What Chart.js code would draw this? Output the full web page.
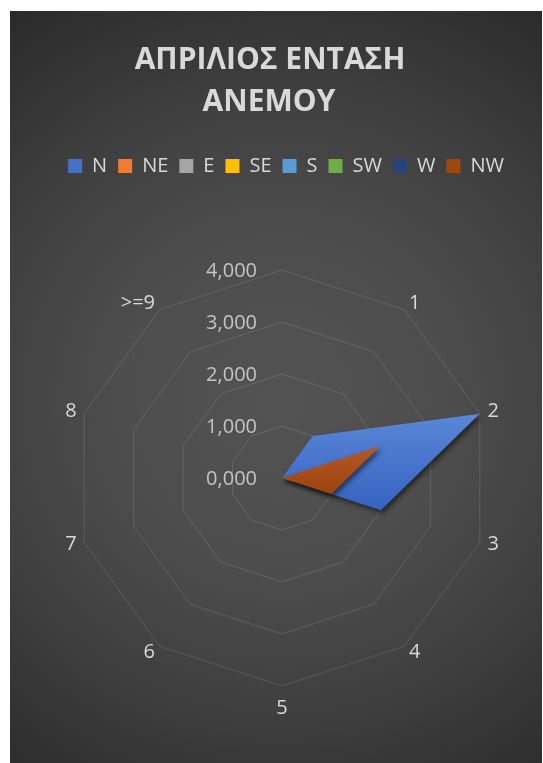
<!DOCTYPE html>
<html>
<head>
<meta charset="utf-8">
<script src="https://cdn.jsdelivr.net/npm/chart.js@4.4.1/dist/chart.umd.min.js"></script>
<style>
  html, body { margin: 0; padding: 0; background: #ffffff; }
  #box {
    position: absolute; left: 10px; top: 11px; width: 532px; height: 752px;
    background: radial-gradient(circle farthest-corner at 51% 52%, #535353 0%, #4d4d4d 35%, #3f3f3f 65%, #2a2a2a 100%);
  }
  canvas { display: block; }
</style>
</head>
<body>
<div id="box"><canvas id="myChart" width="532" height="752"></canvas></div>
<script>
// Δεδομένα
const categories = ['', '1', '2', '3', '4', '5', '6', '7', '8', '>=9'];
const seriesNames = ['N', 'NE', 'E', 'SE', 'S', 'SW', 'W', 'NW'];
const N  = [0, 1, 4, 2, 0, 0, 0, 0, 0, 0];
const NE = [0, 0, 0, 0, 0, 0, 0, 0, 0, 0];
const E  = [0, 0, 0, 0, 0, 0, 0, 0, 0, 0];
const SE = [0, 0, 0, 0, 0, 0, 0, 0, 0, 0];
const S  = [0, 0, 0, 0, 0, 0, 0, 0, 0, 0];
const SW = [0, 0, 0, 0, 0, 0, 0, 0, 0, 0];
const W  = [0, 0, 0, 0, 0, 0, 0, 0, 0, 0];
const NW = [0, 0, 2, 1, 0, 0, 0, 0, 0, 0];
const tickValues = [0, 1, 2, 3, 4];
const tickLabels = ['0,000', '1,000', '2,000', '3,000', '4,000'];
const titleLines = ['ΑΠΡΙΛΙΟΣ ΕΝΤΑΣΗ', 'ΑΝΕΜΟΥ'];

// χρώματα (κορυφή / βάση για το gradient)
const seriesColors = ['#4472C4', '#ED7D31', '#A5A5A5', '#FFC000', '#5B9BD5', '#70AD47', '#264478', '#9E480E'];
const gradTop = ['#5b87d7', '#f08d4c', '#b3b3b3', '#ffc929', '#6aa6dc', '#7eb858', '#2e5089', '#b35a2b'];
const gradBottom = ['#3563c0', '#e06d22', '#979797', '#f0b400', '#4b8dcc', '#619d3b', '#1e3a6a', '#9c420a'];

const seriesData = [N, NE, E, SE, S, SW, W, NW];

function areaFill(c) {
    const i = c.datasetIndex;
    const chart = c.chart;
    const r = chart.scales && chart.scales.r;
    if (!r || !chart.chartArea) return seriesColors[i];
    const ys = c.dataset.data.map((v, k) => r.getPointPositionForValue(k, v).y);
    const y0 = Math.min(...ys), y1 = Math.max(...ys);
    if (y1 - y0 < 1) return seriesColors[i];
    const g = chart.ctx.createLinearGradient(0, y0, 0, y1);
    g.addColorStop(0, gradTop[i]);
    g.addColorStop(1, gradBottom[i]);
    return g;
}

// σκιά κάτω από τις περιοχές + τίτλος + ετικέτες άξονα
const extras = {
    id: 'extras',
    beforeDatasetsDraw(chart) {
        const ctx = chart.ctx;
        ctx.save();
        ctx.shadowColor = 'rgba(0,0,0,0.55)';
        ctx.shadowBlur = 5;
        ctx.shadowOffsetX = 2;
        ctx.shadowOffsetY = 3;
    },
    afterDatasetsDraw(chart) {
        chart.ctx.restore();
    },
    afterDraw(chart) {
        const r = chart.scales.r;
        const ctx = chart.ctx;
        ctx.save();
        // τίτλος
        ctx.font = 'bold 30px "Open Sans"';
        ctx.fillStyle = '#d9d9d9';
        ctx.textAlign = 'center';
        ctx.textBaseline = 'alphabetic';
        ctx.fillText(titleLines[0], 260, 57.5);
        ctx.fillText(titleLines[1], 259, 99.5);
        // τιμές άξονα, αριστερά του κάθετου άξονα
        ctx.font = '20px "Open Sans"';
        ctx.fillStyle = '#c4c4c4';
        ctx.textAlign = 'right';
        ctx.textBaseline = 'middle';
        tickValues.forEach((v, i) => {
            const y = r.yCenter - r.getDistanceFromCenterForValue(v);
            ctx.fillText(tickLabels[i], r.xCenter - 25, y + 1);
        });
        // κατηγορίες
        ctx.font = '20px "Open Sans"';
        ctx.fillStyle = '#d9d9d9';
        categories.forEach((lab, i) => {
            const p = r.getPointPosition(i, r.drawingArea + 8);
            let y = p.y;
            if (p.x > r.xCenter + 1) ctx.textAlign = 'left';
            else if (p.x < r.xCenter - 1) ctx.textAlign = 'right';
            else {
                ctx.textAlign = 'center';
                y += (p.y > r.yCenter ? 14 : -14);
            }
            ctx.fillText(lab, p.x, y);
        });
        ctx.restore();
    }
};

const ctx = document.getElementById('myChart').getContext('2d');
new Chart(ctx, {
    type: 'radar',
    data: {
        labels: categories,
        datasets: seriesNames.map((name, i) => ({
            label: name,
            data: seriesData[i],
            backgroundColor: areaFill,
            borderColor: 'transparent',
            borderWidth: 0,
            pointRadius: 0,
            pointHoverRadius: 0,
            fill: true,
            order: i === 0 ? 1 : 0
        }))
    },
    options: {
        responsive: false,
        animation: false,
        layout: { padding: { top: 134, left: 20 } },
        plugins: {
            title: { display: false },
            legend: {
                display: true,
                position: 'top',
                labels: {
                    color: '#d9d9d9',
                    font: { family: '"Open Sans"', size: 20 },
                    boxWidth: 14,
                    boxHeight: 14,
                    padding: 11,
                    sort: (a, b) => a.datasetIndex - b.datasetIndex,
                    generateLabels(chart) {
                        return Chart.defaults.plugins.legend.labels.generateLabels(chart).map(item => {
                            item.fillStyle = seriesColors[item.datasetIndex];
                            item.strokeStyle = 'transparent';
                            item.lineWidth = 0;
                            return item;
                        });
                    }
                }
            },
            tooltip: { enabled: false }
        },
        scales: {
            r: {
                min: 0,
                max: 4,
                ticks: { display: false, stepSize: 1 },
                pointLabels: { display: false },
                angleLines: { display: false },
                grid: { circular: false, color: 'rgba(255,255,255,0.13)', lineWidth: 1 },
                afterFit(scale) {
                    scale.xCenter = 272;
                    scale.yCenter = 467;
                    scale.drawingArea = 208;
                }
            }
        }
    },
    plugins: [extras]
});
</script>
</body>
</html>
